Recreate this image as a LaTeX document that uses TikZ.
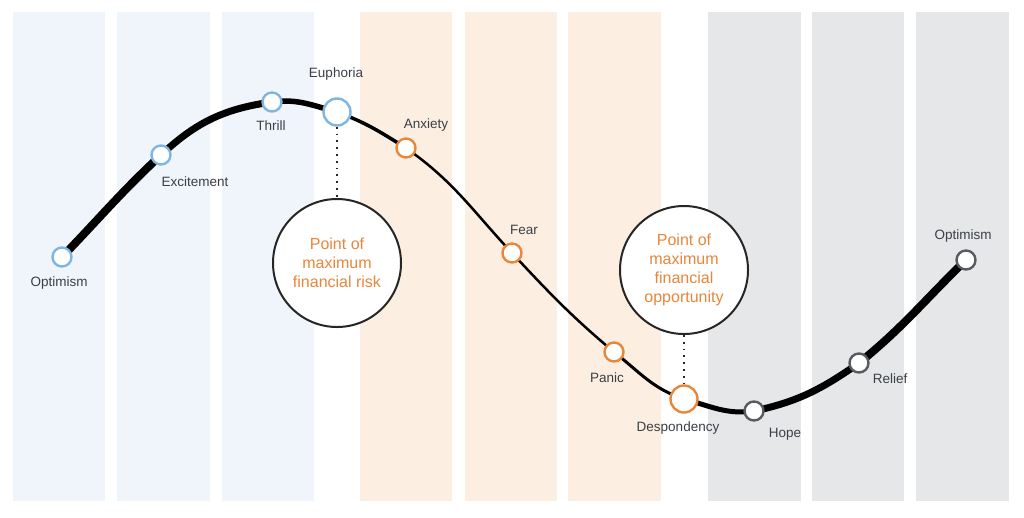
\documentclass[tikz,border=0pt]{standalone}
\usepackage{fontspec}
\setmainfont{Liberation Sans}
\begin{document}
\begin{tikzpicture}[x=1pt,y=-1pt,
  stripe/.style={fill=#1, draw=none},
  pt/.style={circle, draw=#1, fill=white, line width=2.4pt, minimum size=19pt, inner sep=0pt},
  bigpt/.style={pt=#1, minimum size=27pt},
  lbl/.style={text=labelc, font=\fontsize{13.5}{15}\selectfont, inner sep=0pt},
  bigc/.style={circle, draw=black!85, line width=2pt, fill=white, minimum size=128pt, inner sep=0pt,
    align=center, text=orng, font=\fontsize{16}{19}\selectfont},
  crv/.style={line width=#1, black, line cap=round},
  dots/.style={black!85, line width=1.8pt, dash pattern=on 1.8pt off 5pt}
]
\definecolor{sblue}{HTML}{EFF5FB}
\definecolor{sorange}{HTML}{FCEEE0}
\definecolor{sgrey}{HTML}{E6E7E9}
\definecolor{cblue}{HTML}{7DB5E3}
\definecolor{orng}{HTML}{E8863A}
\definecolor{cgrey}{HTML}{575C63}
\definecolor{labelc}{HTML}{3A3F48}
\useasboundingbox (0,0) rectangle (1024,517);
\fill[white] (0,0) rectangle (1024,517);
% stripes
\fill[stripe=sblue] (13,12) rectangle (105,501);
\fill[stripe=sblue] (117,12) rectangle (210,501);
\fill[stripe=sblue] (222,12) rectangle (314,501);
\fill[stripe=sorange] (360,12) rectangle (452,501);
\fill[stripe=sorange] (465,12) rectangle (557,501);
\fill[stripe=sorange] (568,12) rectangle (661,501);
\fill[stripe=sgrey] (708,12) rectangle (801,501);
\fill[stripe=sgrey] (812,12) rectangle (904,501);
\fill[stripe=sgrey] (916,12) rectangle (1009,501);
% point positions
\coordinate (o1) at (62,257);
\coordinate (ex) at (161,155);
\coordinate (th) at (272,102);
\coordinate (eu) at (337,112);
\coordinate (an) at (406,148);
\coordinate (fe) at (512,253);
\coordinate (pa) at (614,352);
\coordinate (de) at (684,399);
\coordinate (ho) at (754,411);
\coordinate (re) at (859,363);
\coordinate (o2) at (966,260);
% curve
\draw[crv=8pt] (o1) to[out=46,in=-137] (ex);
\draw[crv=7pt] (ex) to[out=43,in=-172] (th);
\draw[crv=5.5pt] (th) to[out=8,in=165] (eu);
\draw[crv=3.5pt] (eu) to[out=-20,in=148] (an);
\draw[crv=2.5pt] (an) to[out=-35,in=133] (fe);
\draw[crv=2.5pt] (fe) to[out=-47,in=140] (pa);
\draw[crv=3pt] (pa) to[out=-38,in=162] (de);
\draw[crv=5pt] (de) to[out=-15,in=-172] (ho);
\draw[crv=7pt] (ho) to[out=12,in=-145] (re);
\draw[crv=8pt] (re) to[out=39,in=-136] (o2);
% points
\node[pt=cblue] (no1) at (o1) {};
\node[pt=cblue] (nex) at (ex) {};
\node[pt=cblue] (nth) at (th) {};
\node[bigpt=cblue] (neu) at (eu) {};
\node[pt=orng] (nan) at (an) {};
\node[pt=orng] (nfe) at (fe) {};
\node[pt=orng] (npa) at (pa) {};
\node[bigpt=orng] (nde) at (de) {};
\node[pt=cgrey] (nho) at (ho) {};
\node[pt=cgrey] (nre) at (re) {};
\node[pt=cgrey] (no2) at (o2) {};
% big circles
\node[bigc] (risk) at (337,263) {Point of\\maximum\\financial risk};
\node[bigc] (opp) at (684,270) {Point of\\maximum\\financial\\opportunity};
\draw[dots] (neu.south) -- (risk.north);
\draw[dots] (opp.south) -- (nde.north);
% labels
\node[lbl] (lo1) at (59,283) {Optimism};
\node[lbl] (lex) at (195,182) {Excitement};
\node[lbl] (lth) at (271,126) {Thrill};
\node[lbl] (leu) at (336,74) {Euphoria};
\node[lbl] (lan) at (426,125) {Anxiety};
\node[lbl] (lfe) at (524,230) {Fear};
\node[lbl] (lpa) at (607,378) {Panic};
\node[lbl] (lde) at (678,428) {Despondency};
\node[lbl] (lho) at (785,434) {Hope};
\node[lbl] (lre) at (890,379) {Relief};
\node[lbl] (lo2) at (963,236) {Optimism};
\end{tikzpicture}
\end{document}
